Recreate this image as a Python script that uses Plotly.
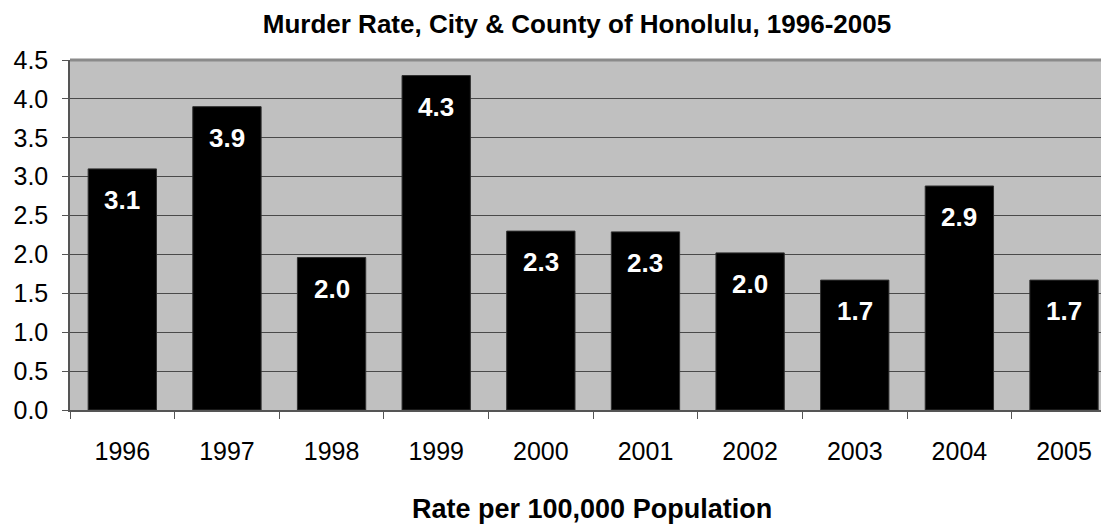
import plotly.graph_objects as go

years = ["1996", "1997", "1998", "1999", "2000", "2001", "2002", "2003", "2004", "2005"]
rates = [3.1, 3.9, 1.96, 4.3, 2.3, 2.29, 2.02, 1.67, 2.88, 1.67]
y_ticks = [0.0, 0.5, 1.0, 1.5, 2.0, 2.5, 3.0, 3.5, 4.0, 4.5]
title_text = "Murder Rate, City &amp; County of Honolulu, 1996-2005"
x_title = "Rate per 100,000 Population"

FONT = "Liberation Sans, Arial, sans-serif"

# The page body has an 8px margin; the figure is sized to fit the window.
fig = go.Figure()
fig.add_trace(go.Bar(
    x=years, y=rates,
    marker=dict(color="#000000", line=dict(color="#303030", width=1)),
    hoverinfo="skip",
))

for i, v in enumerate(rates):
    fig.add_annotation(
        x=i, y=v, xref="x", yref="y",
        text=f"<b>{v:.1f}</b>", showarrow=False,
        yanchor="middle", yshift=-31,
        font=dict(family=FONT, size=26, color="#ffffff"),
    )

fig.add_annotation(
    x=0.5024, y=0, xref="paper", yref="paper",
    text=f"<b>{x_title}</b>", showarrow=False,
    xanchor="center", yanchor="middle", yshift=-99,
    font=dict(family=FONT, size=27, color="#000000"),
)

fig.add_shape(type="line", xref="paper", yref="paper", x0=0, x1=1, y0=1, y1=1,
              line=dict(color="#8a8a8a", width=3), layer="above")

fig.update_layout(
    width=1101, height=519,
    margin=dict(l=62, r=0, t=52, b=117),
    paper_bgcolor="#ffffff",
    plot_bgcolor="#c0c0c0",
    bargap=0.347,
    showlegend=False,
    font=dict(family=FONT, size=25, color="#000000"),
    title=dict(
        text=f"<b>{title_text}</b>",
        x=569 / 1101, xanchor="center", xref="container",
        y=1 - 16 / 519, yanchor="middle", yref="container",
        font=dict(family=FONT, size=26, color="#000000"),
    ),
    xaxis=dict(
        type="category",
        range=[-0.5, 9.43],
        tickson="boundaries",
        ticks="outside", ticklen=7, tickcolor="#555555", tickwidth=1,
        showline=True, linecolor="#555555", linewidth=1.5,
        showgrid=False,
        tickfont=dict(family=FONT, size=25, color="#000000"),
        ticklabelstandoff=18,
        fixedrange=True,
    ),
    yaxis=dict(
        range=[0, 4.5],
        tickvals=y_ticks,
        ticktext=[f"{t:.1f}" for t in y_ticks],
        ticks="outside", ticklen=6, tickcolor="#555555", tickwidth=1,
        showline=True, linecolor="#555555", linewidth=1.5,
        showgrid=True, gridcolor="#4a4a4a", gridwidth=1,
        zeroline=False,
        tickfont=dict(family=FONT, size=25, color="#000000"),
        ticklabelstandoff=9,
        fixedrange=True,
    ),
)

fig.write_html("out.html")
